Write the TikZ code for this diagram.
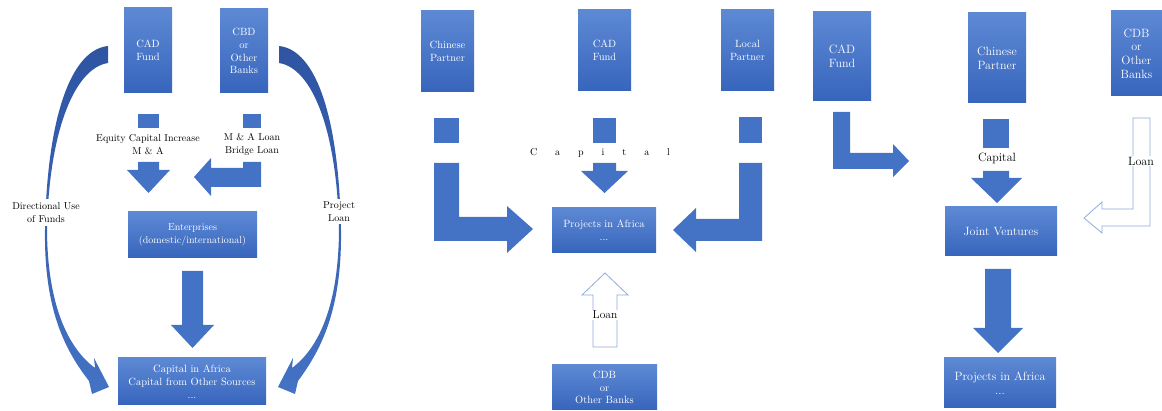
\documentclass[tikz,border=0pt]{standalone}
\usepackage{fontspec}
\usepackage{xcolor}
\usepackage{tikz}
\definecolor{boxtop}{RGB}{93, 137, 212}
\definecolor{boxbot}{RGB}{55, 101, 188}
\definecolor{arrowblue}{RGB}{68, 114, 196}
\definecolor{curvetop}{RGB}{46, 84, 162}
\definecolor{lineblue}{RGB}{143, 170, 220}
\tikzset{
	box/.style = {rectangle, inner sep = 0pt, top color = boxtop, bottom color = boxbot, text = white, align = center, font = \fontsize{10.5}{12.8}\selectfont},
	bigbox/.style = {box, font = \fontsize{12}{13.7}\selectfont},
	blockarrow/.style = {fill = arrowblue},
	hollowarrow/.style = {draw = lineblue, line width = 0.8pt, fill = white},
	curvearrow/.style = {top color = curvetop, bottom color = arrowblue},
	lbl/.style = {fill = white, align = center, inner sep = 1pt, font = \fontsize{10}{13}\selectfont},
	biglbl/.style = {lbl, font = \fontsize{12}{14}\selectfont}
}

\begin{document}
\begin{tikzpicture}[x = 1pt, y = -1pt]
			\useasboundingbox (0,0) rectangle (1162,411);
			% left
			\node (cadA) at (148,50.5) [box, minimum width = 48, minimum height = 85] {CAD\\Fund};
			\node (cbdA) at (244,51) [box, minimum width = 48, minimum height = 84] {CBD\\or\\Other\\Banks};
			\node (entA) at (192.5,235) [box, minimum width = 129, minimum height = 46, font = \fontsize{10}{12.5}\selectfont] {Enterprises\\(domestic/international)};
			\node (capA) at (192,381.5) [box, minimum width = 148, minimum height = 47] {Capital in Africa\\Capital from Other Sources\\...};
			\fill[blockarrow] (138,114) rectangle (159,128);
			\fill[blockarrow] (243,114) rectangle (261,128);
			\fill[blockarrow] (138,162) -- (159,162) -- (159,170) -- (170,170) -- (148.5,193) -- (127,170) -- (138,170) -- cycle;
			\fill[blockarrow] (243,162) -- (261,162) -- (261,187) -- (211,187) -- (211,196) -- (194,177) -- (211,158) -- (211,168) -- (243,168) -- cycle;
			\fill[blockarrow] (182,271) -- (203,271) -- (203,325) -- (214,325) -- (192.5,348) -- (171,325) -- (182,325) -- cycle;
			\path[curvearrow] (108,46) .. controls (70,50) and (47,120) .. (45,230) .. controls (44,310) and (65,350) .. (89,381) -- (92,394) -- (109,387) -- (94,358) -- (95,368) .. controls (68,348) and (47.5,305) .. (47,230) .. controls (49,130) and (75,68) .. (108,63) -- cycle;
			\path[curvearrow] (279,46) .. controls (317,50) and (339,120) .. (341,230) .. controls (342,310) and (321,350) .. (298,381) -- (295,394) -- (278,387) -- (293,358) -- (292,368) .. controls (319,348) and (338.5,305) .. (339,230) .. controls (337,130) and (312,68) .. (279,63) -- cycle;
			\node (eqA) at (148,144.5) [lbl] {Equity Capital Increase\\M \& A};
			\node (maA) at (252,144.5) [lbl] {M \& A Loan\\Bridge Loan};
			\node (dirA) at (46,212.5) [lbl, inner sep = 3pt] {Directional Use\\of Funds};
			\node (proA) at (339,211.5) [lbl, inner sep = 3pt] {Project\\Loan};
			% middle
			\node (chiB) at (447.5,51.5) [box, minimum width = 53, minimum height = 81] {Chinese\\Partner};
			\node (cadB) at (604.5,50.5) [box, minimum width = 53, minimum height = 81] {CAD\\Fund};
			\node (locB) at (747.5,50.5) [box, minimum width = 53, minimum height = 81] {Local\\Partner};
			\node (proB) at (604,230.5) [box, minimum width = 104, minimum height = 45] {Projects in Africa\\...};
			\node (cdbB) at (604.5,387.5) [box, minimum width = 105, minimum height = 45, font = \fontsize{10.5}{12.5}\selectfont] {CDB\\or\\Other Banks};
			\fill[blockarrow] (434,118) rectangle (459,143);
			\fill[blockarrow] (593,118) rectangle (616,143);
			\fill[blockarrow] (739,117) rectangle (762,143);
			\fill[blockarrow] (593,163) -- (616,163) -- (616,171) -- (628,171) -- (604.5,193) -- (581,171) -- (593,171) -- cycle;
			\fill[blockarrow] (434,163) -- (459,163) -- (459,217) -- (507,217) -- (507,206) -- (533,229) -- (507,253) -- (507,241) -- (434,241) -- cycle;
			\fill[blockarrow] (739,163) -- (762,163) -- (762,241) -- (696,241) -- (696,252) -- (673,230) -- (696,208) -- (696,219) -- (739,219) -- cycle;
			\draw[hollowarrow] (593,347) -- (617,347) -- (617,295) -- (628,295) -- (605,273) -- (582,295) -- (593,295) -- cycle;
			\node (capB) at (600,153) [lbl, fill = none] {\makebox[140pt]{C\hfill a\hfill p\hfill i\hfill t\hfill a\hfill l}};
			\node (loanB) at (605,315) [lbl, font = \fontsize{11.5}{14}\selectfont] {Loan};
			% right
			\node (cadC) at (842,56.5) [bigbox, minimum width = 58, minimum height = 89] {CAD\\Fund};
			\node (chiC) at (997,58) [bigbox, minimum width = 58, minimum height = 90] {Chinese\\Partner};
			\node (cdbC) at (1136.5,53.5) [bigbox, minimum width = 51, minimum height = 85] {CDB\\or\\Other\\Banks};
			\node (jvC) at (1001,231.5) [bigbox, minimum width = 112, minimum height = 49] {Joint Ventures};
			\node (proC) at (1000,383) [bigbox, minimum width = 112, minimum height = 50] {Projects in Africa\\...};
			\fill[blockarrow] (833,112) -- (850,112) -- (850,153) -- (893,153) -- (893,144) -- (909,161) -- (893,177) -- (893,169) -- (833,169) -- cycle;
			\fill[blockarrow] (983,119) rectangle (1009,148);
			\fill[blockarrow] (983,171) -- (1009,171) -- (1009,178) -- (1022,178) -- (997,203) -- (971,178) -- (983,178) -- cycle;
			\fill[blockarrow] (985,269) -- (1011,269) -- (1011,328) -- (1023,328) -- (998,353) -- (973,328) -- (985,328) -- cycle;
			\draw[hollowarrow] (1133,118) -- (1150,118) -- (1150,226) -- (1102,226) -- (1102,233) -- (1084,218) -- (1102,202) -- (1102,209) -- (1133,209) -- cycle;
			\node (capC) at (997,158) [biglbl, fill = none] {Capital};
			\node (loanC) at (1141,161) [biglbl] {Loan};
			\end{tikzpicture}
\end{document}
